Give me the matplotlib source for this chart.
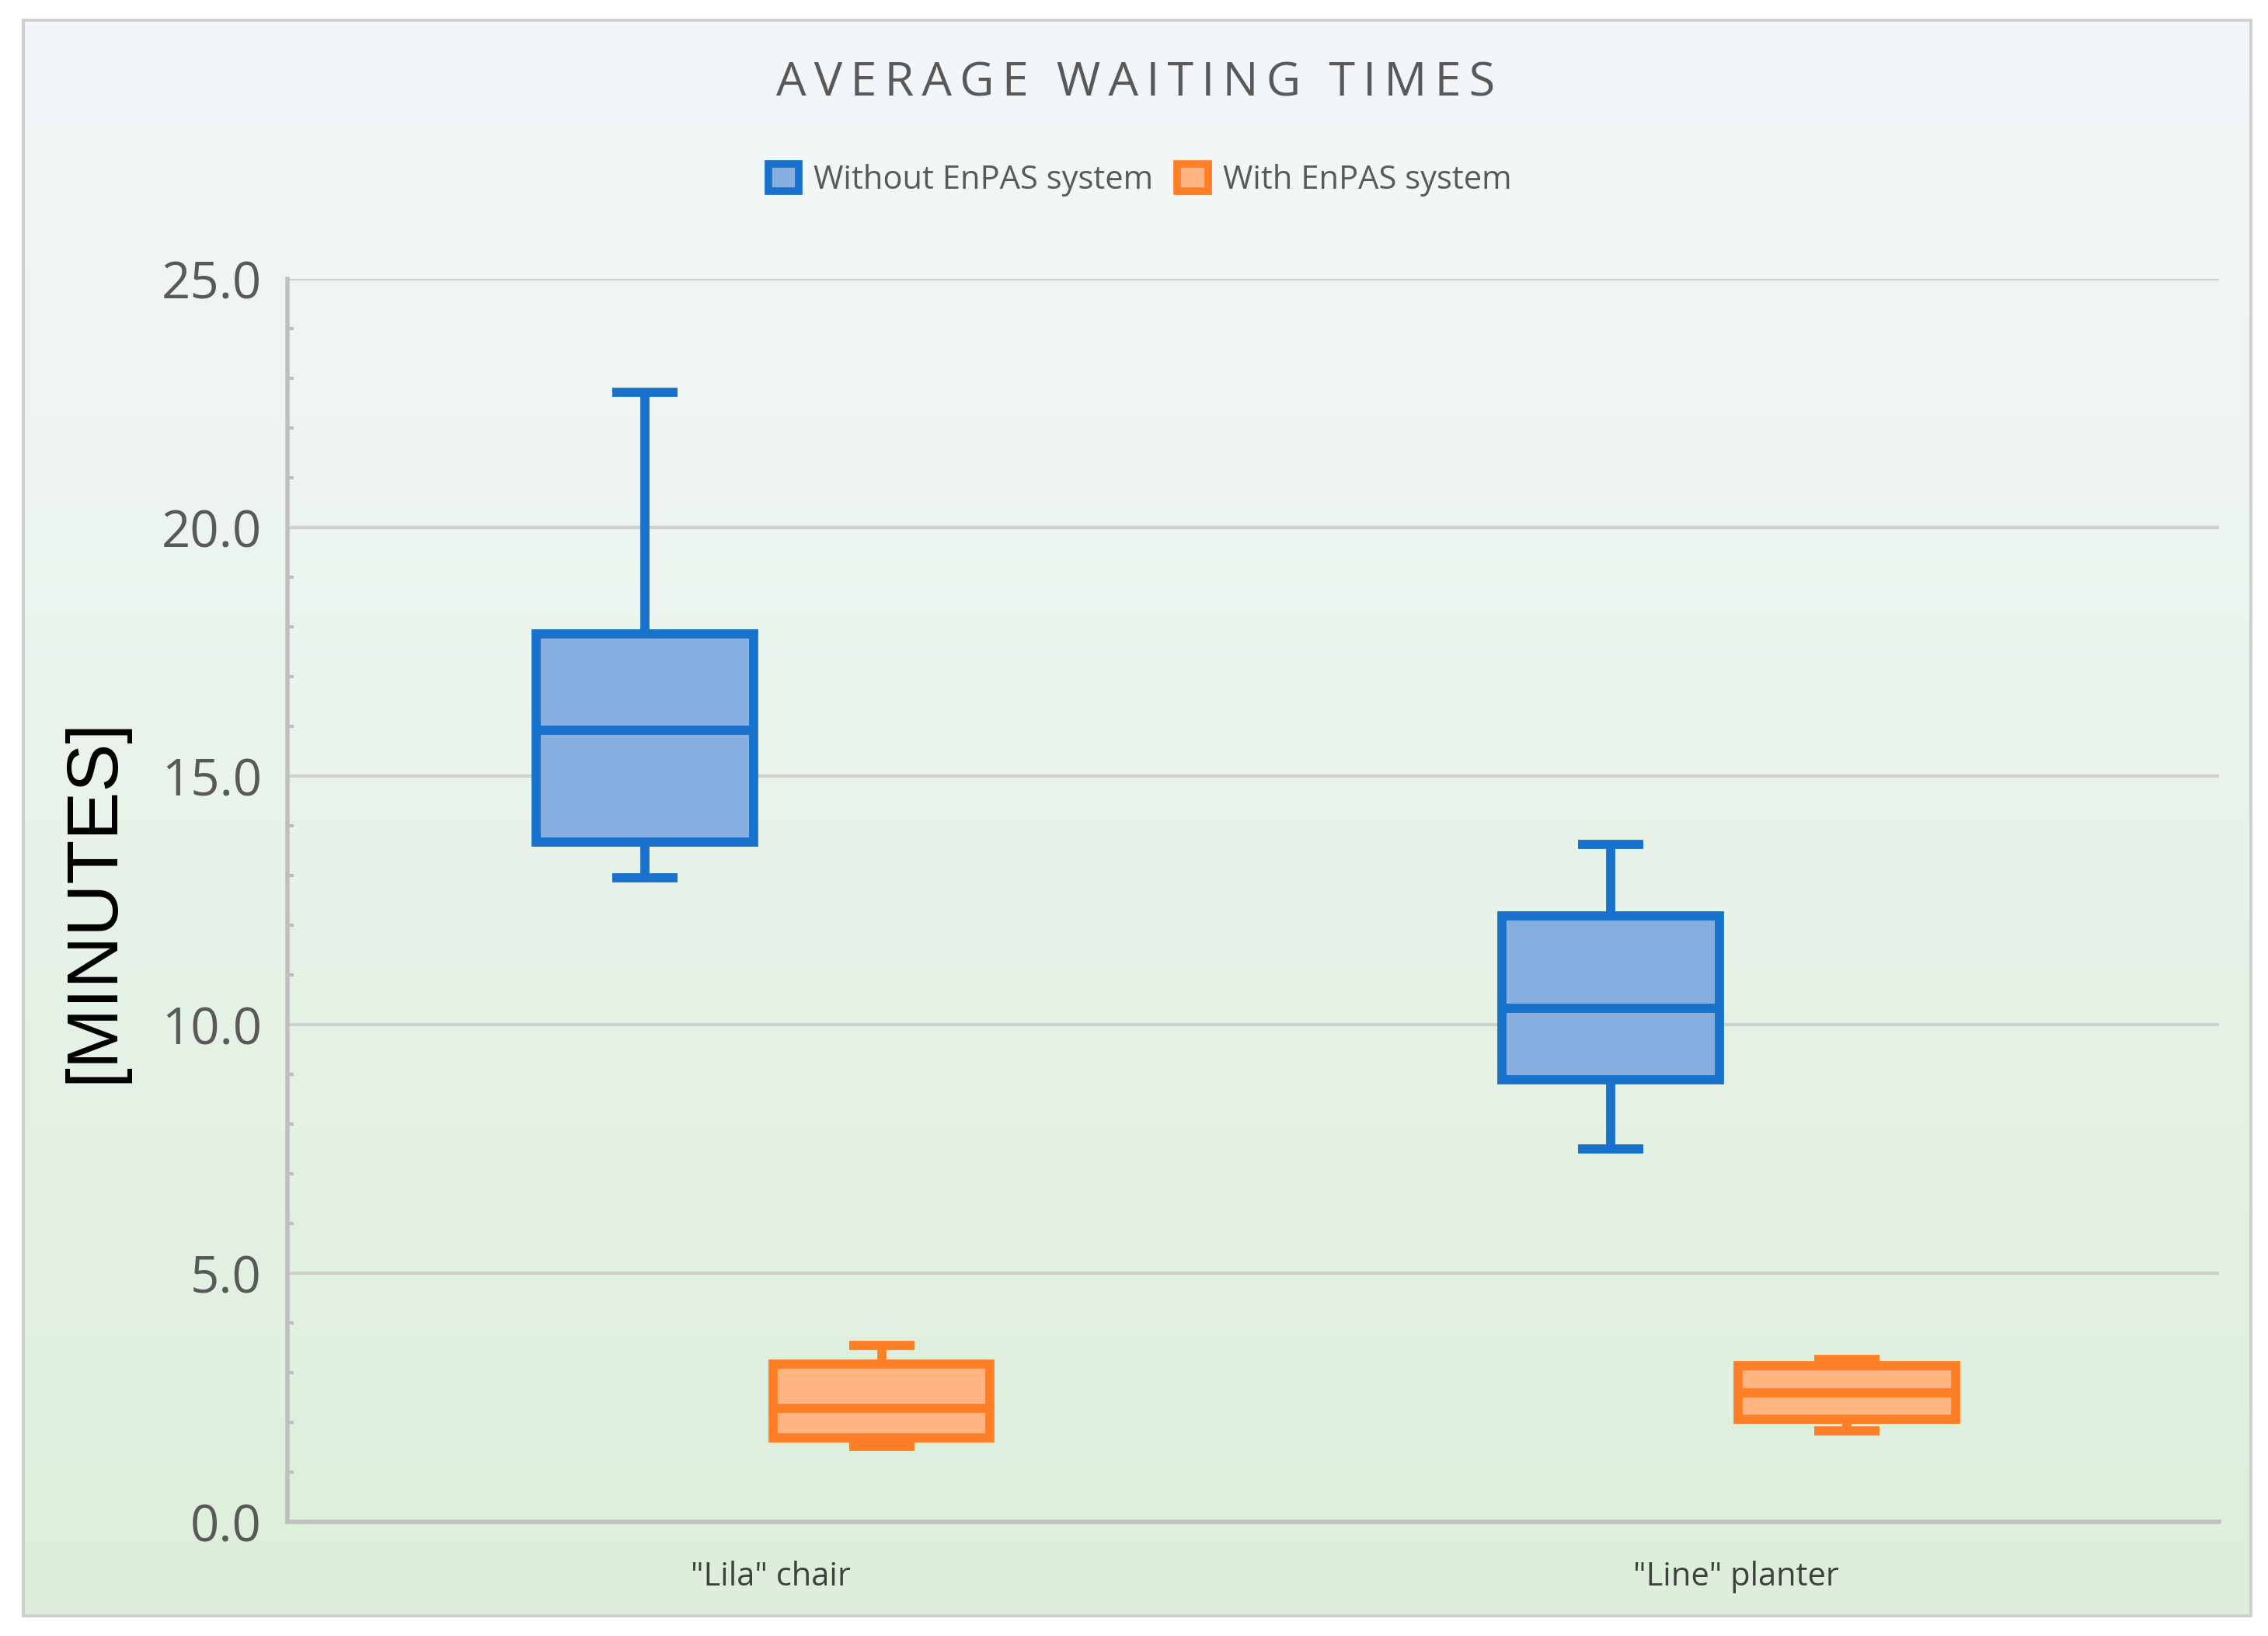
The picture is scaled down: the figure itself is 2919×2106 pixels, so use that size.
import numpy as np
import matplotlib.pyplot as plt
from matplotlib.patches import Patch, Rectangle

# values (minutes)
categories = ['"Lila" chair', '"Line" planter']
series = ['Without EnPAS system', 'With EnPAS system']

without_whislo = [12.95, 7.5]
without_q1 = [13.68, 8.9]
without_med = [15.92, 10.33]
without_q3 = [17.87, 12.19]
without_whishi = [22.73, 13.62]

with_whislo = [1.51, 1.83]
with_q1 = [1.69, 2.07]
with_med = [2.28, 2.59]
with_q3 = [3.17, 3.14]
with_whishi = [3.55, 3.26]

y_ticks = [0, 5, 10, 15, 20, 25]

BLUE_EDGE = '#1872CC'
BLUE_FILL = '#86AEE0'
ORANGE_EDGE = '#FF7F27'
ORANGE_FILL = '#FFB482'
TEXT = '#595959'

plt.rcParams['font.family'] = ['Open Sans', 'DejaVu Sans']

fig = plt.figure(figsize=(29.19, 21.06), dpi=100)

# gradient background with a thin grey border
bg = fig.add_axes([0.0102, 0.0124, 0.9821, 0.9752], zorder=-10)
top = np.array([0xF4, 0xF7, 0xFA]) / 255
bottom = np.array([0xDD, 0xEF, 0xDA]) / 255
t = np.linspace(0, 1, 256)[:, None]
grad = (top * (1 - t) + bottom * t)[:, None, :]
bg.imshow(grad, aspect='auto', extent=[0, 1, 0, 1])
bg.set_xlim(0, 1)
bg.set_ylim(0, 1)
bg.axis('off')
bg.add_patch(Rectangle((0, 0), 1, 1, fill=False, edgecolor='#D0D0D0', lw=3,
                       transform=bg.transAxes, clip_on=False))

ax = fig.add_axes([0.1269, 0.0698, 0.8514, 0.7596])
ax.set_facecolor('none')

x = np.arange(len(categories))
box_w = 0.225
offsets = [-0.13, 0.115]


def make_stats(lo, q1, med, q3, hi):
    return [dict(whislo=lo[i], q1=q1[i], med=med[i], q3=q3[i], whishi=hi[i], fliers=[])
            for i in range(len(lo))]


groups = [
    (make_stats(without_whislo, without_q1, without_med, without_q3, without_whishi), BLUE_EDGE, BLUE_FILL),
    (make_stats(with_whislo, with_q1, with_med, with_q3, with_whishi), ORANGE_EDGE, ORANGE_FILL),
]

for (stats, edge, fill), off in zip(groups, offsets):
    lw = 8.5
    ax.bxp(stats, positions=x + off, widths=box_w, capwidths=box_w * 0.3,
           patch_artist=True, showfliers=False, manage_ticks=False,
           boxprops=dict(facecolor=fill, edgecolor=edge, linewidth=lw, joinstyle='miter'),
           medianprops=dict(color=edge, linewidth=lw, solid_capstyle='butt'),
           whiskerprops=dict(color=edge, linewidth=lw, solid_capstyle='butt'),
           capprops=dict(color=edge, linewidth=lw, solid_capstyle='butt'),
           zorder=3)

ax.set_xlim(-0.5, 1.5)
ax.set_ylim(0, 25)
ax.set_yticks(y_ticks)
ax.set_yticklabels([f'{v:.1f}' for v in y_ticks])
ax.set_yticks(np.arange(0, 25, 1), minor=True)
ax.set_xticks(x)
ax.set_xticklabels(categories)

ax.grid(axis='y', color='#CFCFCF', linewidth=3, zorder=0)
ax.set_axisbelow(True)
for s in ['top', 'right']:
    ax.spines[s].set_visible(False)
for s in ['left', 'bottom']:
    ax.spines[s].set_color('#BFBFBF')
    ax.spines[s].set_linewidth(4)

ax.tick_params(axis='y', which='major', length=0, labelsize=47, labelcolor=TEXT, pad=24)
ax.tick_params(axis='y', which='minor', length=6, width=3, direction='in', color='#BFBFBF')
ax.tick_params(axis='x', length=0, labelsize=30, labelcolor='#404040', pad=36)

ax.set_ylabel('[MINUTES]', fontsize=67, family=['Liberation Sans', 'DejaVu Sans'],
              color='black')
ax.yaxis.set_label_coords(-0.083, 0.5)

title = '\u2009 \u2009'.join('\u2009'.join(w) for w in 'AVERAGE WAITING TIMES'.split())
fig.text(0.5006, 0.949, title, ha='center', va='center', fontsize=44, color=TEXT)

handles = [Patch(facecolor=BLUE_FILL, edgecolor=BLUE_EDGE, linewidth=7),
           Patch(facecolor=ORANGE_FILL, edgecolor=ORANGE_EDGE, linewidth=7)]
fig.legend(handles, series, loc='center', bbox_to_anchor=(0.5026, 0.890), ncol=2,
           frameon=False, fontsize=30, labelcolor=TEXT, handlelength=0.95,
           handleheight=0.95, handletextpad=0.45, columnspacing=0.75)

fig.savefig('out.png', dpi=100)
